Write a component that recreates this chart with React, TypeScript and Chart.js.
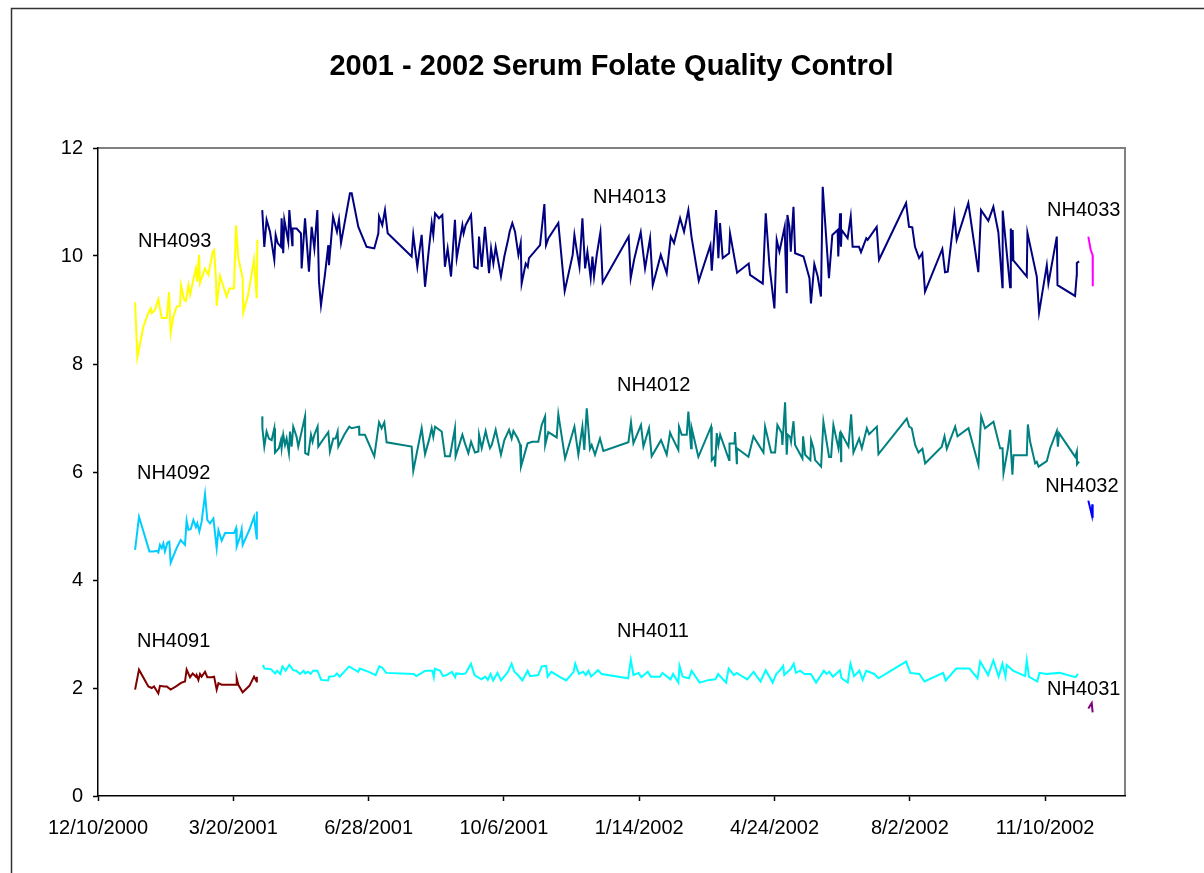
import React, { useEffect, useRef } from "react";
import { Chart, registerables } from "chart.js";

Chart.register(...registerables);

// x = days since 12/10/2000, y = serum folate value
const xTickLabels = ["12/10/2000", "3/20/2001", "6/28/2001", "10/6/2001", "1/14/2002", "4/24/2002", "8/2/2002", "11/10/2002"];
const yTickValues = [0, 2, 4, 6, 8, 10, 12];

const nh4093: [number, number][] = [
  [27.4, 9.14], [29.1, 8.12], [33.5, 8.69], [37.2, 8.94], [39.0, 9.03], [39.7, 8.94], [42.1, 9.0], [44.6, 9.2],
  [47.1, 8.85], [50.8, 8.85], [52.5, 9.33], [53.7, 8.58], [55.7, 8.88], [58.1, 9.06], [60.6, 9.08], [61.4, 9.46],
  [63.6, 9.19], [65.0, 9.17], [66.8, 9.46], [68.0, 9.28], [70.5, 9.56], [72.4, 9.77], [73.4, 9.53], [74.7, 10.02],
  [75.4, 9.5], [79.1, 9.77], [81.6, 9.65], [84.8, 10.08], [85.8, 10.11], [87.2, 9.56], [87.7, 9.08], [90.2, 9.63],
  [95.1, 9.25], [97.1, 9.4], [100.5, 9.4], [102.0, 10.57], [103.7, 9.96], [106.9, 9.59], [107.4, 8.95], [111.1, 9.3],
  [115.3, 9.94], [117.3, 9.22], [117.8, 10.3],
];

const nh4092: [number, number][] = [
  [27.4, 4.56], [30.3, 5.17], [38.0, 4.53], [40.9, 4.53], [43.4, 4.54], [44.6, 4.51], [45.8, 4.65], [47.1, 4.59],
  [48.3, 4.68], [49.5, 4.53], [51.3, 4.69], [52.7, 4.71], [53.7, 4.32], [58.1, 4.59], [61.1, 4.74], [64.3, 4.65],
  [65.5, 5.1], [66.8, 4.93], [68.5, 4.94], [70.5, 5.11], [72.4, 4.98], [73.4, 5.05], [74.9, 4.9], [76.6, 5.08],
  [79.1, 5.59], [80.8, 5.11], [82.8, 5.05], [85.3, 5.14], [87.7, 4.59], [89.0, 4.92], [91.4, 4.73], [93.9, 4.87],
  [96.3, 4.87], [100.5, 4.87], [102.0, 4.96], [102.5, 4.62], [105.0, 4.8], [106.2, 4.94], [106.9, 4.65], [111.9, 4.93],
  [115.3, 5.17], [117.3, 4.77], [117.4, 5.27],
];

const nh4091: [number, number][] = [
  [27.4, 1.97], [30.3, 2.34], [37.2, 2.03], [39.7, 2.0], [41.4, 2.03], [44.6, 1.9], [45.8, 2.04], [48.8, 2.03],
  [50.8, 2.03], [53.7, 1.97], [57.7, 2.03], [60.6, 2.08], [61.8, 2.1], [64.3, 2.12], [65.5, 2.34], [68.0, 2.2],
  [70.0, 2.27], [72.4, 2.21], [72.9, 2.24], [74.2, 2.15], [75.4, 2.26], [76.6, 2.21], [79.1, 2.3], [80.8, 2.2],
  [84.0, 2.2], [85.8, 2.21], [87.7, 1.97], [89.0, 2.09], [91.4, 2.06], [93.9, 2.06], [102.0, 2.06], [102.5, 2.18],
  [103.7, 2.06], [106.9, 1.92], [111.9, 2.04], [115.3, 2.21], [117.3, 2.12], [117.4, 2.21],
];

const nh4013: [number, number][] = [
  [121.4, 10.85], [122.9, 10.17], [124.6, 10.67], [127.1, 10.45], [130.3, 9.93], [131.3, 10.39], [132.8, 10.24], [135.2, 10.17],
  [135.7, 10.7], [136.9, 10.05], [137.7, 10.67], [140.6, 10.27], [141.4, 10.85], [143.6, 10.2], [143.8, 10.51], [146.8, 10.51],
  [150.0, 10.42], [150.5, 9.77], [153.0, 10.7], [155.9, 9.71], [157.9, 10.54], [159.9, 10.14], [162.1, 10.85], [163.3, 9.53],
  [164.8, 9.09], [167.7, 9.65], [170.2, 10.2], [170.7, 9.83], [173.7, 10.73], [176.6, 10.45], [178.1, 10.67], [179.6, 10.24],
  [186.2, 11.16], [187.5, 11.16], [192.4, 10.54], [198.5, 10.17], [204.2, 10.14], [207.2, 10.42], [207.7, 10.73], [210.1, 10.57],
  [212.1, 10.85], [214.1, 10.42], [231.8, 9.99], [233.0, 10.39], [236.0, 9.8], [239.2, 10.39], [241.7, 9.43], [244.1, 10.02],
  [246.6, 10.61], [247.8, 10.39], [249.1, 10.79], [252.0, 10.7], [254.5, 10.76], [256.4, 9.8], [258.4, 10.14], [260.9, 9.62],
  [263.8, 10.67], [265.1, 9.96], [269.3, 10.57], [270.2, 10.42], [271.7, 10.57], [275.7, 10.76], [278.1, 9.8], [280.6, 9.77],
  [281.6, 10.36], [283.6, 9.8], [286.0, 10.54], [289.0, 9.68], [290.5, 10.14], [292.2, 9.86], [293.9, 10.17], [297.8, 9.62],
  [300.3, 9.99], [303.3, 10.33], [304.2, 10.45], [306.2, 10.61], [308.2, 10.45], [310.7, 10.02], [312.4, 10.24], [313.1, 9.49],
  [316.1, 9.86], [317.6, 9.8], [318.5, 9.96], [326.7, 10.2], [329.9, 10.96], [331.1, 10.2], [332.9, 10.33], [340.2, 10.61],
  [344.9, 9.35], [350.8, 10.02], [352.1, 10.39], [353.8, 10.11], [355.8, 9.8], [358.0, 10.7], [360.0, 9.77], [361.7, 10.08],
  [364.1, 9.59], [365.4, 9.99], [366.6, 9.62], [368.6, 10.02], [371.3, 10.44], [373.0, 9.51], [392.2, 10.36], [393.7, 9.59],
  [396.2, 9.93], [401.1, 10.44], [404.3, 9.77], [408.0, 10.33], [410.0, 9.46], [415.9, 10.02], [420.3, 9.68], [423.3, 10.36],
  [425.7, 10.24], [430.2, 10.7], [433.1, 10.45], [436.3, 10.85], [438.6, 10.36], [444.0, 9.54], [452.6, 10.2], [453.6, 9.73],
  [456.8, 10.85], [458.5, 9.96], [459.7, 10.61], [461.7, 9.96], [466.4, 10.05], [467.1, 10.42], [472.3, 9.69], [480.9, 9.86],
  [481.9, 9.65], [491.3, 9.49], [493.5, 10.79], [496.2, 9.83], [499.9, 9.03], [501.6, 10.3], [503.6, 10.08], [507.5, 10.54],
  [508.0, 10.05], [509.0, 9.31], [509.5, 10.76], [511.0, 10.54], [512.0, 10.08], [514.0, 10.91], [515.2, 10.05], [521.4, 9.99],
  [525.8, 9.59], [526.9, 9.12], [529.4, 9.85], [531.9, 9.62], [534.3, 9.25], [535.6, 11.28], [540.2, 9.59], [542.7, 10.39],
  [546.6, 10.48], [547.1, 9.99], [548.4, 10.79], [549.1, 10.17], [549.6, 10.48], [554.0, 10.33], [556.3, 10.73], [557.7, 10.17],
  [562.4, 10.17], [563.9, 10.07], [567.8, 10.33], [568.8, 10.3], [575.5, 10.54], [577.2, 9.93], [597.2, 10.98], [599.4, 10.54],
  [601.8, 10.53], [603.8, 10.17], [606.8, 9.96], [609.2, 10.05], [611.2, 9.34], [624.0, 10.13], [626.0, 9.7], [628.0, 9.71],
  [632.9, 10.76], [634.6, 10.3], [643.2, 10.98], [650.6, 9.7], [652.6, 10.85], [658.0, 10.65], [661.7, 10.91], [665.4, 10.44],
  [668.4, 9.42], [668.6, 10.84], [674.1, 9.42], [674.6, 10.51], [675.8, 9.92], [676.0, 10.48], [676.5, 9.92], [686.4, 9.62],
  [686.9, 10.43], [693.8, 9.62], [695.5, 8.95], [701.2, 9.83], [702.4, 9.49], [708.6, 10.36], [709.1, 9.46], [722.1, 9.26],
  [723.3, 9.64], [723.4, 9.87], [725.1, 9.9],
];

const nh4012: [number, number][] = [
  [121.4, 7.03], [121.5, 6.81], [122.9, 6.47], [124.6, 6.75], [126.3, 6.62], [128.3, 6.59], [130.3, 6.81], [130.8, 6.36],
  [133.7, 6.44], [135.2, 6.59], [135.7, 6.44], [136.9, 6.69], [138.2, 6.5], [139.4, 6.62], [141.1, 6.35], [141.9, 6.75],
  [143.1, 6.47], [144.3, 6.84], [146.8, 6.65], [148.0, 6.47], [153.0, 7.03], [153.1, 6.35], [155.4, 6.32], [157.4, 6.69],
  [158.6, 6.56], [159.9, 6.69], [162.3, 6.84], [162.8, 6.47], [170.2, 6.74], [171.4, 6.38], [173.9, 6.62], [175.6, 6.62],
  [177.1, 6.75], [177.6, 6.47], [182.0, 6.69], [185.7, 6.84], [187.5, 6.81], [192.9, 6.84], [193.1, 6.69], [197.3, 6.69],
  [204.2, 6.29], [207.7, 6.92], [209.6, 6.81], [211.6, 6.92], [213.3, 6.55], [231.8, 6.47], [233.0, 6.02], [239.2, 6.81],
  [241.7, 6.33], [244.6, 6.59], [246.6, 6.81], [247.8, 6.65], [249.1, 6.84], [254.0, 6.75], [256.5, 6.29], [260.1, 6.29],
  [263.8, 6.81], [264.3, 6.29], [269.3, 6.69], [271.2, 6.53], [273.7, 6.35], [275.7, 6.56], [278.6, 6.36], [281.1, 6.38],
  [281.6, 6.69], [283.6, 6.44], [286.5, 6.76], [288.0, 6.59], [289.7, 6.44], [291.0, 6.5], [293.9, 6.78], [297.8, 6.32],
  [300.3, 6.59], [303.8, 6.78], [305.7, 6.62], [307.0, 6.76], [310.2, 6.62], [311.9, 6.51], [312.6, 6.1], [317.5, 6.53],
  [321.0, 6.56], [325.4, 6.56], [327.9, 6.87], [330.4, 7.03], [330.5, 6.5], [332.8, 6.74], [339.0, 6.64], [340.2, 7.07],
  [345.2, 6.25], [352.1, 6.84], [355.0, 6.32], [358.0, 6.84], [359.4, 6.41], [361.2, 7.18], [363.6, 6.43], [364.9, 6.5],
  [367.3, 6.32], [371.0, 6.62], [373.5, 6.39], [392.0, 6.55], [393.9, 6.92], [395.7, 6.53], [401.3, 6.87], [403.1, 6.47],
  [407.2, 6.81], [409.2, 6.29], [416.1, 6.59], [420.3, 6.32], [422.8, 6.73], [424.0, 6.66], [428.9, 6.41], [429.4, 6.84],
  [431.4, 6.69], [435.1, 6.69], [436.3, 7.12], [438.3, 6.44], [438.8, 6.81], [443.7, 6.28], [453.1, 6.84], [453.6, 6.22],
  [455.6, 6.28], [456.1, 6.1], [457.3, 6.72], [458.5, 6.5], [459.8, 6.69], [466.4, 6.22], [466.7, 6.53], [470.4, 6.53],
  [470.8, 6.74], [472.1, 6.16], [472.2, 6.44], [480.7, 6.28], [484.4, 6.66], [491.8, 6.36], [493.0, 6.84], [497.5, 6.36],
  [500.4, 6.36], [502.1, 6.87], [505.3, 6.72], [505.8, 6.5], [507.8, 7.29], [509.0, 6.32], [509.8, 6.69], [511.5, 6.65],
  [512.2, 6.56], [514.0, 6.94], [515.2, 6.5], [520.6, 6.25], [521.1, 6.66], [522.6, 6.32], [526.5, 6.22], [527.0, 6.59],
  [528.8, 6.44], [530.0, 6.22], [534.4, 6.1], [536.1, 6.93], [540.3, 6.28], [541.8, 6.28], [543.5, 6.87], [547.2, 6.44],
  [548.5, 6.75], [549.2, 6.2], [549.3, 6.72], [554.6, 6.47], [556.6, 7.07], [558.3, 6.36], [562.5, 6.62], [564.5, 6.44],
  [568.2, 6.81], [569.9, 6.7], [575.6, 6.84], [576.8, 6.33], [597.7, 6.99], [599.5, 6.84], [601.4, 6.81], [603.9, 6.5],
  [606.4, 6.36], [609.3, 6.43], [611.3, 6.16], [623.6, 6.47], [625.6, 6.66], [627.3, 6.43], [633.5, 6.84], [635.2, 6.66],
  [643.3, 6.81], [650.7, 6.13], [652.7, 7.03], [655.6, 6.81], [661.8, 6.93], [666.7, 6.44], [668.5, 6.44], [669.2, 5.98],
  [672.4, 6.43], [674.1, 6.78], [674.9, 6.31], [675.8, 5.95], [676.6, 6.31], [686.4, 6.31], [687.2, 6.88], [688.9, 6.56],
  [692.6, 6.16], [693.8, 6.19], [695.1, 6.1], [701.2, 6.2], [703.7, 6.44], [708.6, 6.76], [709.4, 6.47], [710.3, 6.72],
  [722.2, 6.28], [723.4, 6.38], [723.5, 6.14], [725.1, 6.19],
];

const nh4011: [number, number][] = [
  [121.9, 2.43], [123.0, 2.36], [127.7, 2.35], [130.9, 2.27], [132.4, 2.32], [134.8, 2.26], [136.3, 2.4], [138.7, 2.32],
  [141.4, 2.43], [144.2, 2.33], [146.5, 2.32], [149.3, 2.26], [152.0, 2.32], [153.2, 2.27], [155.1, 2.3], [157.1, 2.26],
  [159.0, 2.32], [162.2, 2.32], [164.9, 2.15], [170.0, 2.14], [170.8, 2.21], [174.7, 2.22], [176.6, 2.27], [178.6, 2.21],
  [185.6, 2.4], [192.3, 2.3], [193.5, 2.36], [200.1, 2.3], [205.2, 2.24], [207.9, 2.4], [209.9, 2.38], [213.0, 2.28],
  [233.4, 2.26], [235.3, 2.22], [242.0, 2.32], [247.1, 2.32], [248.2, 2.2], [249.0, 2.36], [252.9, 2.32], [254.9, 2.22],
  [257.6, 2.24], [261.5, 2.3], [263.9, 2.2], [264.7, 2.27], [269.4, 2.26], [271.7, 2.27], [275.6, 2.45], [278.3, 2.24],
  [283.4, 2.16], [286.2, 2.21], [288.1, 2.15], [290.1, 2.26], [292.0, 2.14], [295.2, 2.28], [297.9, 2.14], [303.0, 2.3],
  [305.7, 2.45], [307.7, 2.3], [310.4, 2.24], [313.6, 2.14], [317.5, 2.32], [319.4, 2.22], [325.3, 2.24], [328.0, 2.4],
  [331.2, 2.41], [332.3, 2.21], [335.1, 2.3], [340.9, 2.21], [346.0, 2.14], [351.5, 2.3], [352.7, 2.45], [355.4, 2.26],
  [358.5, 2.3], [360.5, 2.24], [362.5, 2.32], [364.4, 2.21], [369.5, 2.33], [372.2, 2.26], [391.8, 2.18], [393.8, 2.52],
  [395.7, 2.24], [399.6, 2.28], [401.6, 2.2], [406.3, 2.3], [408.6, 2.21], [415.3, 2.21], [417.2, 2.28], [423.1, 2.16],
  [425.0, 2.26], [428.9, 2.1], [429.8, 2.41], [432.1, 2.21], [436.8, 2.18], [438.7, 2.32], [444.6, 2.1], [451.6, 2.15],
  [456.3, 2.16], [458.3, 2.26], [464.2, 2.1], [466.1, 2.36], [470.0, 2.24], [472.0, 2.28], [479.8, 2.16], [484.5, 2.3],
  [489.6, 2.12], [493.5, 2.33], [498.6, 2.1], [501.3, 2.26], [504.1, 2.33], [506.4, 2.41], [507.2, 2.24], [511.9, 2.35],
  [514.2, 2.45], [515.8, 2.28], [518.9, 2.32], [522.1, 2.26], [526.8, 2.26], [530.7, 2.1], [536.5, 2.32], [538.5, 2.26],
  [540.4, 2.3], [543.2, 2.21], [548.3, 2.33], [549.5, 2.18], [554.1, 2.1], [556.1, 2.45], [558.8, 2.22], [562.7, 2.32],
  [565.1, 2.15], [567.8, 2.32], [573.7, 2.26], [576.8, 2.18], [597.2, 2.49], [600.3, 2.28], [607.0, 2.26], [610.8, 2.12],
  [624.6, 2.28], [626.5, 2.14], [634.3, 2.36], [644.1, 2.36], [650.0, 2.18], [652.0, 2.49], [657.8, 2.24], [661.7, 2.51],
  [665.6, 2.21], [668.4, 2.45], [670.7, 2.21], [671.5, 2.43], [676.2, 2.32], [685.2, 2.22], [686.4, 2.51], [688.0, 2.21],
  [694.2, 2.12], [695.8, 2.28], [700.8, 2.26], [710.6, 2.28], [722.4, 2.2], [724.3, 2.26],
];

const nh4033: [number, number][] = [[731.9, 10.36], [733.6, 10.12], [735.1, 10.01], [735.2, 9.44]];
const nh4032: [number, number][] = [[731.9, 5.47], [734.5, 5.2], [734.8, 5.4], [735.1, 5.15]];
const nh4031: [number, number][] = [[731.9, 1.62], [734.4, 1.72], [735.1, 1.55]];

const seriesLabelNames = ["NH4093", "NH4013", "NH4033", "NH4012", "NH4092", "NH4032", "NH4091", "NH4011", "NH4031"];
const seriesLabelDays = [29.6, 365.9, 701.4, 383.6, 28.8, 700.0, 28.8, 383.6, 701.4];
const seriesLabelValues = [10.26, 11.09, 10.85, 7.61, 5.98, 5.74, 2.87, 3.04, 1.98];

const FONT = "'Liberation Sans', Arial, Helvetica, sans-serif";

function toPoints(arr: [number, number][]) {
  return arr.map(([x, y]) => ({ x, y }));
}

export default function App() {
  const canvasRef = useRef<HTMLCanvasElement | null>(null);

  useEffect(() => {
    const canvas = canvasRef.current;
    if (!canvas) return;

    const framePlugin = {
      id: "frame",
      beforeDraw(chart: any) {
        const ctx = chart.ctx;
        ctx.save();
        ctx.fillStyle = "#ffffff";
        ctx.fillRect(0, 0, chart.width, chart.height);
        ctx.strokeStyle = "#333333";
        ctx.lineWidth = 1.5;
        ctx.beginPath();
        ctx.moveTo(11.5, chart.height);
        ctx.lineTo(11.5, 8.5);
        ctx.lineTo(chart.width, 8.5);
        ctx.stroke();
        const a = chart.chartArea;
        ctx.strokeStyle = "#808080";
        ctx.lineWidth = 2;
        ctx.beginPath();
        ctx.moveTo(a.left, a.top);
        ctx.lineTo(a.right, a.top);
        ctx.lineTo(a.right, a.bottom);
        ctx.stroke();
        ctx.restore();
      },
    };

    const labelPlugin = {
      id: "seriesLabels",
      afterDatasetsDraw(chart: any) {
        const ctx = chart.ctx;
        const xs = chart.scales.x;
        const ys = chart.scales.y;
        ctx.save();
        ctx.font = `20px ${FONT}`;
        ctx.fillStyle = "#000000";
        ctx.textAlign = "left";
        ctx.textBaseline = "middle";
        seriesLabelNames.forEach((name, i) => {
          ctx.fillText(name, xs.getPixelForValue(seriesLabelDays[i]), ys.getPixelForValue(seriesLabelValues[i]));
        });
        ctx.restore();
      },
    };

    const ds = (label: string, arr: [number, number][], color: string) => ({
      label,
      data: toPoints(arr),
      borderColor: color,
      backgroundColor: color,
      borderWidth: 2,
      pointRadius: 0,
      tension: 0,
      fill: false,
    });

    const chart = new Chart(canvas, {
      type: "line",
      data: {
        datasets: [
          ds("NH4093", nh4093, "#FFFF00"),
          ds("NH4092", nh4092, "#00CCFF"),
          ds("NH4091", nh4091, "#800000"),
          ds("NH4013", nh4013, "#000080"),
          ds("NH4012", nh4012, "#008080"),
          ds("NH4011", nh4011, "#00FFFF"),
          ds("NH4033", nh4033, "#FF00FF"),
          ds("NH4032", nh4032, "#0000FF"),
          ds("NH4031", nh4031, "#800080"),
        ],
      },
      options: {
        animation: false,
        responsive: false,
        devicePixelRatio: 1,
        layout: { padding: { left: 0, right: 79, top: 0, bottom: 0 } },
        plugins: {
          legend: { display: false },
          tooltip: { enabled: false },
          title: {
            display: true,
            text: "2001 - 2002 Serum Folate Quality Control",
            fullSize: false,
            color: "#000000",
            font: { family: FONT, size: 29, weight: "bold", lineHeight: 1.2 },
            padding: { top: 50, bottom: 63.2 },
          },
        },
        scales: {
          x: {
            type: "linear",
            min: 0,
            max: 759,
            afterFit(scale: any) {
              scale.height = 77;
            },
            afterBuildTicks(scale: any) {
              scale.ticks = xTickLabels.map((_, i) => ({ value: i * 100 }));
            },
            ticks: {
              autoSkip: false,
              maxRotation: 0,
              minRotation: 0,
              padding: 15,
              color: "#000000",
              font: { family: FONT, size: 20 },
              callback: (value: any) => xTickLabels[Math.round(Number(value) / 100)] ?? "",
            },
            grid: {
              drawOnChartArea: false,
              drawTicks: true,
              tickLength: 5,
              tickColor: "#000000",
              tickWidth: 1.5,
            },
            border: { display: true, color: "#000000", width: 1.5 },
          },
          y: {
            type: "linear",
            min: 0,
            max: 12,
            afterFit(scale: any) {
              scale.width = 98;
            },
            afterBuildTicks(scale: any) {
              scale.ticks = yTickValues.map((v) => ({ value: v }));
            },
            ticks: {
              padding: 10,
              color: "#000000",
              font: { family: FONT, size: 20 },
            },
            grid: {
              drawOnChartArea: false,
              drawTicks: true,
              tickLength: 5,
              tickColor: "#000000",
              tickWidth: 1.5,
            },
            border: { display: true, color: "#000000", width: 1.5 },
          },
        },
      } as any,
      plugins: [framePlugin, labelPlugin],
    });

    return () => chart.destroy();
  }, []);

  return (
    <div style={{ position: "fixed", left: 0, top: 0, width: 1204, height: 873, background: "#fff" }}>
      <canvas ref={canvasRef} width={1204} height={873} style={{ display: "block", width: 1204, height: 873 }} />
    </div>
  );
}
